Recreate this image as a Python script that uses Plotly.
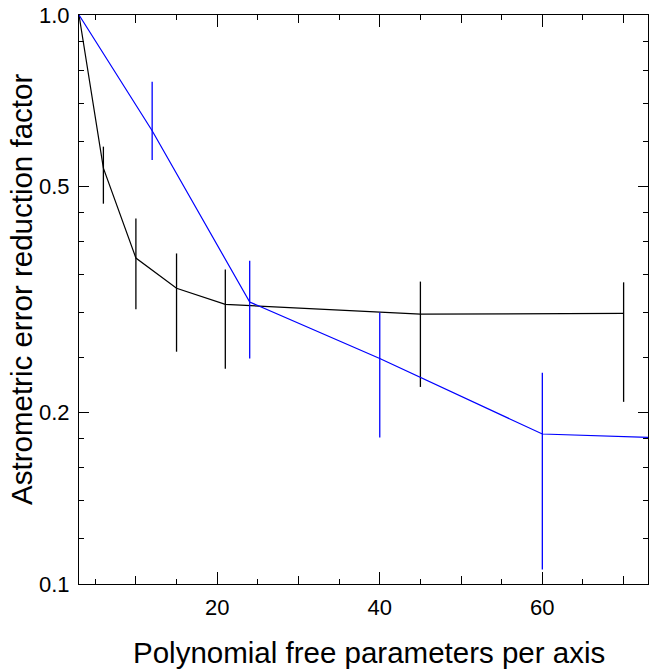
import plotly.graph_objects as go

# ---- data ----
black_x = [3, 6, 10, 15, 21, 45, 70]
black_y = [1.0, 0.538, 0.374, 0.331, 0.310, 0.298, 0.299]
black_hi = [1.0, 0.587, 0.439, 0.381, 0.357, 0.340, 0.339]
black_lo = [1.0, 0.466, 0.304, 0.256, 0.239, 0.222, 0.209]

blue_x = [3, 12, 24, 40, 60, 73]
blue_y = [1.0, 0.626, 0.313, 0.249, 0.1835, 0.181]
blue_hi = [1.0, 0.763, 0.370, 0.300, 0.235, 0.181]
blue_lo = [1.0, 0.556, 0.249, 0.181, 0.106, 0.181]

x_major = [20, 40, 60]
x_major_text = ["20", "40", "60"]
x_mid = [10, 30, 50, 70]
y_major = [0.1, 0.2, 0.5, 1.0]
y_major_text = ["0.1", "0.2", "0.5", "1.0"]
y_minor = [0.12, 0.14, 0.16, 0.18, 0.25, 0.3, 0.35, 0.4, 0.45, 0.6, 0.7, 0.8, 0.9]

x_range = [3, 73]

FONT = "Liberation Sans, Arial, sans-serif"


def err(y, hi, lo):
    return dict(type="data", symmetric=False,
                array=[h - v for h, v in zip(hi, y)],
                arrayminus=[v - l for v, l in zip(y, lo)])


fig = go.Figure()
fig.add_trace(go.Scatter(x=black_x, y=black_y, mode="lines",
                         line=dict(color="black", width=1.2),
                         error_y=dict(**err(black_y, black_hi, black_lo),
                                      color="black", thickness=1.3, width=0),
                         showlegend=False))
fig.add_trace(go.Scatter(x=blue_x, y=blue_y, mode="lines",
                         line=dict(color="#0000ff", width=1.2),
                         error_y=dict(**err(blue_y, blue_hi, blue_lo),
                                      color="#0000ff", thickness=1.3, width=0),
                         showlegend=False))
# empty trace so overlay tick axes are drawn
fig.add_trace(go.Scatter(x=[], y=[], xaxis="x2", yaxis="y2", showlegend=False))

fig.update_layout(
    width=649, height=671,
    margin=dict(l=79, r=1, t=15, b=87),
    plot_bgcolor="white", paper_bgcolor="white",
    font=dict(family=FONT, color="black"),
    xaxis=dict(range=x_range, showgrid=False, zeroline=False,
               showline=True, linecolor="black", linewidth=1, mirror="ticks",
               ticks="inside", ticklen=12, tickwidth=1, tickcolor="black",
               tickvals=x_major, ticktext=x_major_text,
               tickfont=dict(size=22), ticklabelstandoff=4,
               minor=dict(dtick=5, tick0=0, ticks="inside", ticklen=5,
                          tickwidth=1, tickcolor="black", showgrid=False),
               automargin=False),
    xaxis2=dict(range=x_range, overlaying="x", side="bottom",
                showgrid=False, zeroline=False, showline=False,
                ticks="inside", ticklen=8, tickwidth=1, tickcolor="black",
                tickvals=x_mid, showticklabels=False, mirror="ticks"),
    yaxis=dict(type="log", range=[-1, 0], showgrid=False, zeroline=False,
               showline=True, linecolor="black", linewidth=1, mirror="ticks",
               ticks="inside", ticklen=10, tickwidth=1, tickcolor="black",
               tickvals=y_major, ticktext=y_major_text,
               tickfont=dict(size=22), ticklabelstandoff=4,
               automargin=False),
    yaxis2=dict(type="log", range=[-1, 0], overlaying="y", side="left",
                showgrid=False, zeroline=False, showline=False,
                ticks="inside", ticklen=5, tickwidth=1, tickcolor="black",
                tickvals=y_minor, showticklabels=False, mirror="ticks"),
    annotations=[
        dict(text="Astrometric error reduction factor",
             xref="paper", yref="paper", x=-0.1, y=0.517,
             xanchor="center", yanchor="middle", textangle=-90,
             showarrow=False, font=dict(size=29.5)),
        dict(text="Polynomial free parameters per axis",
             xref="paper", yref="paper", x=0.51, y=-0.121,
             xanchor="center", yanchor="middle",
             showarrow=False, font=dict(size=29.5)),
    ],
)

fig.write_html("out.html",
               config={"displayModeBar": False},
               post_script="document.body.style.margin='0';"
                           "document.body.style.overflow='hidden';")
